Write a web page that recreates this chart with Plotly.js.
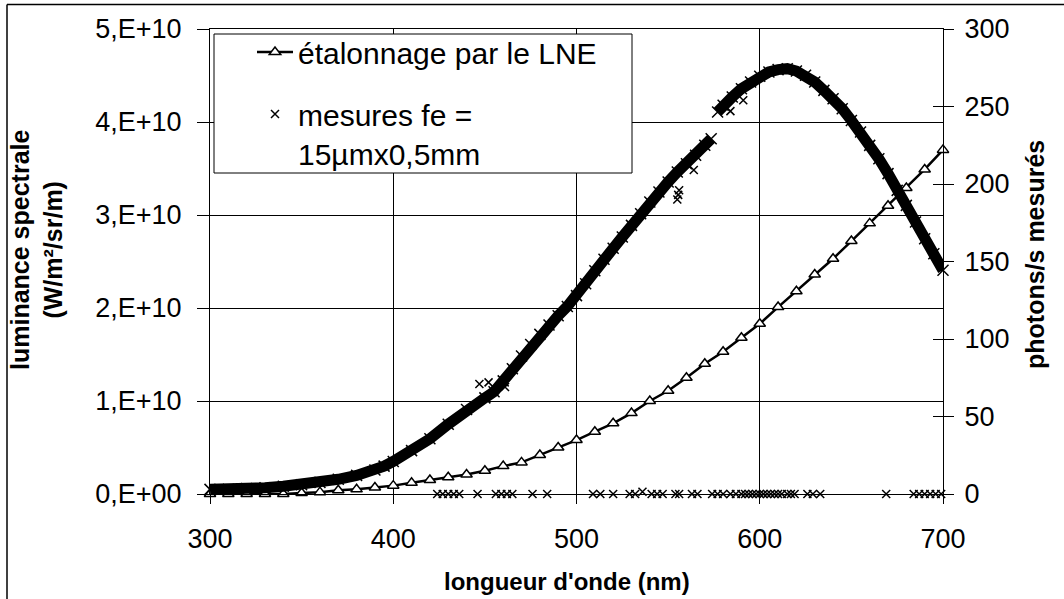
<!DOCTYPE html>
<html>
<head>
<meta charset="utf-8">
<script src="https://cdn.plot.ly/plotly-3.0.1.min.js"></script>
<style>
html,body{margin:0;padding:0;background:#fff;}
#chart{width:1064px;height:599px;}
</style>
</head>
<body>
<div id="chart"></div>
<script>
// ---- Data ----
// Calibration by LNE (left axis, W/m²/sr/m)
const calWavelength = [300,310,320,330,340,350,360,370,380,390,400,410,420,430,440,450,460,470,480,490,500,510,520,530,540,550,560,570,580,590,600,610,620,630,640,650,660,670,680,690,700];
const calLuminance = [0.00e10,0.00e10,0.00e10,0.00e10,0.00e10,0.01e10,0.02e10,0.04e10,0.05e10,0.07e10,0.09e10,0.12e10,0.15e10,0.18e10,0.21e10,0.25e10,0.30e10,0.34e10,0.42e10,0.50e10,0.58e10,0.67e10,0.76e10,0.87e10,1.00e10,1.11e10,1.25e10,1.40e10,1.53e10,1.68e10,1.83e10,2.01e10,2.18e10,2.36e10,2.53e10,2.72e10,2.91e10,3.10e10,3.29e10,3.49e10,3.70e10];

// Measurements (right axis, photons/s) – main curve (null = break between the two scans)
const measWavelength = [300,310,320,330,340,350,360,370,380,390,395,400,410,420,430,440,450,455,460,465,470,475,480,485,490,495,500,505,510,515,520,525,530,535,540,545,550,555,560,565,570,573.5,573.6,577,580,585,590,595,600,605,610,615,620,625,630,635,640,645,650,655,660,665,670,675,680,685,690,695,700];
const measPhotons = [3,3,3.5,4,5,6,7.5,9.5,12,15.5,18,21,28,35.6,45,54.5,62,66,73,80.8,89,96.5,103,109,115,121,128,135.7,144,151.5,158.5,165.8,173.3,180.8,188.4,194.8,201.3,207.7,213.1,218.5,225,229.2,null,246.5,250.8,256.1,261.5,265.8,269.5,272.3,273.8,274.4,272.9,270.1,265.8,260.4,255,248.6,241,233.5,224.9,216.3,206.7,195.9,186.2,175.5,164.7,155,144.3];
// Measurements – scattered points off the main curve
const outlierWavelength = [447,452,461,555,555.5,556,564,584,591];
const outlierPhotons = [71,72,69,190,193,196,209,247,254];
// Measurements – readings at zero
const zeroWavelength = [424,427,430,433,436,446,456,459,462,465,476,484,509,513,520,529,532,536,541,544,547,554,556,563,566,574,577,580,584,587,590,592,594,596,598,600,602,604,606,608,610,612,615,617,619,626,629,633,669,684,687,690,693,696,699];
const zeroPhotons = [0,0,0,0,0,0,0,0,0,0,0,0,0,0,0,0,0,1.5,0,0,0,0,0,0,0,0,0,0,0,0,0,0,0,0,0,0,0,0,0,0,0,0,0,0,0,0,0,0,0,0,0,0,0,0,0];

// Tick labels
const xTicks = [300,400,500,600,700];
const leftTickVals = [0,1e10,2e10,3e10,4e10,5e10];
const leftTickText = ['0,E+00','1,E+10','2,E+10','3,E+10','4,E+10','5,E+10'];
const rightTickVals = [0,50,100,150,200,250,300];

// Text
const legendCal = 'étalonnage par le LNE';
const legendMeas = 'mesures fe =<br>15µmx0,5mm';
const xTitle = "longueur d'onde (nm)";
const yTitle = 'luminance spectrale<br>(W/m²/sr/m)';
const y2Title = 'photons/s mesurés';

// ---- Layout helpers (pixel geometry) ----
const W = 1064, H = 599;
const L = 210, R = 943, T = 29, B = 494;
const px = x => (x - L) / (R - L);
const py = y => (B - y) / (B - T);

const FONT = 'Liberation Sans, Arial, sans-serif';
const xMarker = {symbol:'x-thin', size:8, color:'black', line:{width:1.5, color:'black'}};

const traces = [
  {
    x: calWavelength, y: calLuminance, type:'scatter', mode:'lines+markers',
    name: legendCal, yaxis:'y', cliponaxis:false, legendgroup:'a', legendrank:1,
    line:{color:'black', width:2.5},
    marker:{symbol:'triangle-up', size:10, color:'white', line:{color:'black', width:1.5}}
  },
  {
    x: measWavelength, y: measPhotons, type:'scatter', mode:'lines',
    yaxis:'y2', showlegend:false, connectgaps:false, hoverinfo:'skip',
    line:{color:'black', width:11}
  },
  {
    x: measWavelength, y: measPhotons, type:'scatter', mode:'markers',
    yaxis:'y2', showlegend:false, cliponaxis:false,
    marker: {symbol:'x-thin', size:11, color:'black', line:{width:1.5, color:'black'}}
  },
  {
    x: outlierWavelength, y: outlierPhotons, type:'scatter', mode:'markers',
    yaxis:'y2', showlegend:false, cliponaxis:false, marker:xMarker
  },
  {
    x: zeroWavelength, y: zeroPhotons, type:'scatter', mode:'markers',
    name: legendMeas, yaxis:'y2', cliponaxis:false, legendgroup:'b', legendrank:2,
    marker:xMarker
  },
  { x:[], y:[], type:'scatter', yaxis:'y3', showlegend:false }
];

const layout = {
  width: W, height: H,
  margin: {l:L, r:W-R, t:T, b:H-B, pad:0},
  paper_bgcolor:'white', plot_bgcolor:'white',
  font: {family: FONT, color:'black', size:27},
  showlegend: true,
  legend: {
    x: px(252), y: py(26), xanchor:'left', yanchor:'top',
    bgcolor:'rgba(0,0,0,0)', borderwidth:0,
    font:{family:FONT, size:30, color:'black'},
    itemwidth: 36, tracegroupgap: 20, traceorder:'grouped',
    valign:'top', itemsizing:'trace'
  },
  xaxis: {
    range:[300,700], tickvals:xTicks, ticks:'outside', ticklen:9, tickcolor:'black',
    showline:true, linecolor:'black', linewidth:1, mirror:true,
    showgrid:true, gridcolor:'black', gridwidth:1, zeroline:false,
    tickfont:{size:27}, ticklabelstandoff:12
  },
  yaxis: {
    range:[0,5e10], tickvals:leftTickVals, ticktext:leftTickText,
    ticks:'outside', ticklen:12, tickcolor:'black',
    showline:true, linecolor:'black', linewidth:1,
    showgrid:true, gridcolor:'black', gridwidth:1, zeroline:false,
    tickfont:{size:27}, ticklabelstandoff:10
  },
  yaxis2: {
    overlaying:'y', side:'right', range:[0,300], tickvals:rightTickVals,
    ticks:'outside', ticklen:10, tickcolor:'black',
    showline:true, linecolor:'black', linewidth:1,
    showgrid:false, zeroline:false, tickfont:{size:27}, ticklabelstandoff:5
  },
  yaxis3: {
    overlaying:'y', side:'right', range:[0,300], tickvals:rightTickVals,
    ticks:'inside', ticklen:10, tickcolor:'black', showticklabels:false,
    showline:false, showgrid:false, zeroline:false
  },
  shapes: [
    {type:'rect', xref:'paper', yref:'paper', x0:px(214), x1:px(632), y0:py(173), y1:py(34),
     fillcolor:'white', line:{color:'black', width:1}, layer:'above'},
    {type:'line', xref:'paper', yref:'paper', x0:px(7), x1:px(1070), y0:py(4.5), y1:py(4.5),
     line:{color:'black', width:1.5}},
    {type:'line', xref:'paper', yref:'paper', x0:px(7), x1:px(7), y0:py(4.5), y1:py(605),
     line:{color:'black', width:1.5}}
  ],
  annotations: [
    {text:'<b>'+xTitle+'</b>', xref:'paper', yref:'paper', x:px(566.5), y:py(581),
     xanchor:'center', yanchor:'middle', showarrow:false, font:{size:24}},
    {text:'<b>'+yTitle+'</b>', xref:'paper', yref:'paper', x:px(37), y:py(250),
     xanchor:'center', yanchor:'middle', showarrow:false, textangle:-90, font:{size:25}},
    {text:'<b>'+y2Title+'</b>', xref:'paper', yref:'paper', x:px(1035), y:py(255),
     xanchor:'center', yanchor:'middle', showarrow:false, textangle:-90, font:{size:25}}
  ]
};

Plotly.newPlot('chart', traces, layout, {displayModeBar:false, staticPlot:true});
</script>
</body>
</html>
